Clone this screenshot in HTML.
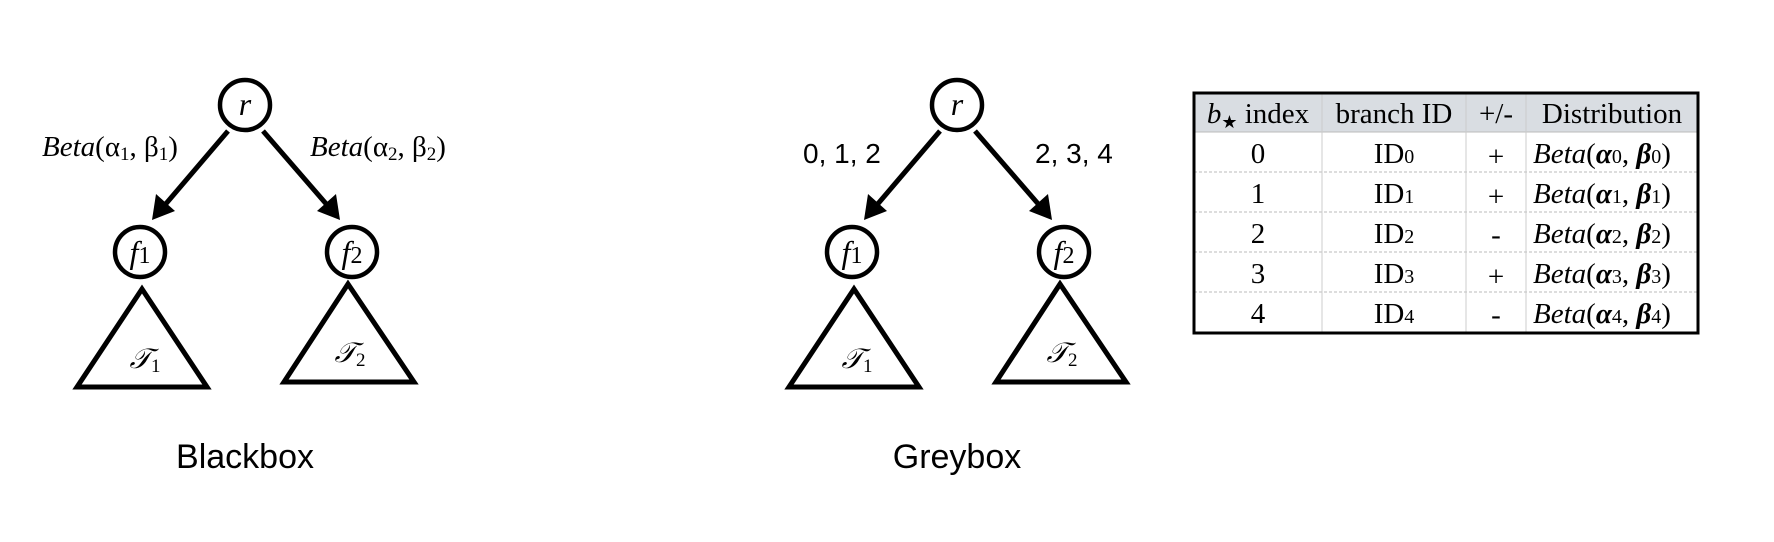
<!DOCTYPE html>
<html><head><meta charset="utf-8"><style>
html,body{margin:0;padding:0;background:#fff;width:1774px;height:542px;overflow:hidden}
svg{display:block}
</style></head><body>
<svg width="1774" height="542" xmlns="http://www.w3.org/2000/svg">
<defs>
<g id="tree">
  <circle cx="245" cy="105" r="25" fill="#fff" stroke="#000" stroke-width="4.5"/>
  <text x="245" y="115" font-family="Liberation Serif,serif" font-style="italic" font-size="32" text-anchor="middle">r</text>
  <circle cx="140" cy="252" r="25" fill="#fff" stroke="#000" stroke-width="4.5"/>
  <text x="140" y="263" font-family="Liberation Serif,serif" font-size="32" text-anchor="middle"><tspan font-style="italic">f</tspan><tspan font-size="24">1</tspan></text>
  <circle cx="352" cy="252" r="25" fill="#fff" stroke="#000" stroke-width="4.5"/>
  <text x="352" y="263" font-family="Liberation Serif,serif" font-size="32" text-anchor="middle"><tspan font-style="italic">f</tspan><tspan font-size="24">2</tspan></text>
  <line x1="228" y1="131" x2="164" y2="206" stroke="#000" stroke-width="5"/>
  <polygon points="152,220 156,194 175,211" fill="#000"/>
  <line x1="263" y1="131" x2="328" y2="206" stroke="#000" stroke-width="5"/>
  <polygon points="340,220 317,211 336,194" fill="#000"/>
  <polygon points="142,289 77,387 207,387" fill="none" stroke="#000" stroke-width="5"/>
  <text x="145" y="368" font-family="Liberation Serif,serif" font-style="italic" font-size="28" text-anchor="middle">𝒯<tspan font-size="19" font-style="normal" dy="4">1</tspan></text>
  <polygon points="348,284 284,382 414,382" fill="none" stroke="#000" stroke-width="5"/>
  <text x="350" y="362" font-family="Liberation Serif,serif" font-style="italic" font-size="28" text-anchor="middle">𝒯<tspan font-size="19" font-style="normal" dy="4">2</tspan></text>
</g>
</defs>
<use href="#tree"/>
<use href="#tree" transform="translate(712,0)"/>
<text x="42" y="156" font-family="Liberation Serif,serif" font-size="29"><tspan font-style="italic">Beta</tspan>(α<tspan font-size="19" dy="4">1</tspan><tspan dy="-4">, β</tspan><tspan font-size="19" dy="4">1</tspan><tspan dy="-4">)</tspan></text>
<text x="310" y="156" font-family="Liberation Serif,serif" font-size="29"><tspan font-style="italic">Beta</tspan>(α<tspan font-size="19" dy="4">2</tspan><tspan dy="-4">, β</tspan><tspan font-size="19" dy="4">2</tspan><tspan dy="-4">)</tspan></text>
<text x="245" y="468" font-family="Liberation Sans,sans-serif" font-size="34" text-anchor="middle">Blackbox</text>
<text x="803" y="163" font-family="Liberation Sans,sans-serif" font-size="28">0, 1, 2</text>
<text x="1035" y="163" font-family="Liberation Sans,sans-serif" font-size="28">2, 3, 4</text>
<text x="957" y="468" font-family="Liberation Sans,sans-serif" font-size="34" text-anchor="middle">Greybox</text>

<rect x="1194" y="93" width="504" height="39" fill="#d9dde2"/>
<g stroke="#bbb" stroke-width="1" stroke-dasharray="3,2">
<line x1="1194" y1="172" x2="1698" y2="172"/>
<line x1="1194" y1="212" x2="1698" y2="212"/>
<line x1="1194" y1="252" x2="1698" y2="252"/>
<line x1="1194" y1="292" x2="1698" y2="292"/>
</g>
<line x1="1194" y1="132" x2="1698" y2="132" stroke="#bbb" stroke-width="1"/>
<g stroke="#ccc" stroke-width="1">
<line x1="1322" y1="93" x2="1322" y2="333"/>
<line x1="1466" y1="93" x2="1466" y2="333"/>
<line x1="1526" y1="93" x2="1526" y2="333"/>
</g>
<rect x="1194" y="93" width="504" height="240" fill="none" stroke="#000" stroke-width="3"/>
<g font-family="Liberation Serif,serif" font-size="29" text-anchor="middle">
<text x="1258" y="123"><tspan font-style="italic">b</tspan><tspan font-size="18" dy="5">★</tspan><tspan dy="-5"> index</tspan></text>
<text x="1394" y="123">branch ID</text>
<text x="1496" y="123">+/-</text>
<text x="1612" y="123">Distribution</text>
</g>
<g font-family="Liberation Serif,serif" font-size="29">
<g text-anchor="middle">
<text x="1258" y="163">0</text><text x="1258" y="203">1</text><text x="1258" y="243">2</text><text x="1258" y="283">3</text><text x="1258" y="323">4</text>
<text x="1394" y="163">ID<tspan font-size="20">0</tspan></text>
<text x="1394" y="203">ID<tspan font-size="20">1</tspan></text>
<text x="1394" y="243">ID<tspan font-size="20">2</tspan></text>
<text x="1394" y="283">ID<tspan font-size="20">3</tspan></text>
<text x="1394" y="323">ID<tspan font-size="20">4</tspan></text>
<text x="1496" y="166">+</text><text x="1496" y="206">+</text><text x="1496" y="244">-</text><text x="1496" y="286">+</text><text x="1496" y="324">-</text>
</g>
<text x="1533" y="163"><tspan font-style="italic">Beta</tspan>(<tspan font-weight="bold" font-style="italic">α</tspan><tspan font-size="20">0</tspan>, <tspan font-weight="bold" font-style="italic">β</tspan><tspan font-size="20">0</tspan>)</text>
<text x="1533" y="203"><tspan font-style="italic">Beta</tspan>(<tspan font-weight="bold" font-style="italic">α</tspan><tspan font-size="20">1</tspan>, <tspan font-weight="bold" font-style="italic">β</tspan><tspan font-size="20">1</tspan>)</text>
<text x="1533" y="243"><tspan font-style="italic">Beta</tspan>(<tspan font-weight="bold" font-style="italic">α</tspan><tspan font-size="20">2</tspan>, <tspan font-weight="bold" font-style="italic">β</tspan><tspan font-size="20">2</tspan>)</text>
<text x="1533" y="283"><tspan font-style="italic">Beta</tspan>(<tspan font-weight="bold" font-style="italic">α</tspan><tspan font-size="20">3</tspan>, <tspan font-weight="bold" font-style="italic">β</tspan><tspan font-size="20">3</tspan>)</text>
<text x="1533" y="323"><tspan font-style="italic">Beta</tspan>(<tspan font-weight="bold" font-style="italic">α</tspan><tspan font-size="20">4</tspan>, <tspan font-weight="bold" font-style="italic">β</tspan><tspan font-size="20">4</tspan>)</text>
</g>
</svg>
</body></html>
